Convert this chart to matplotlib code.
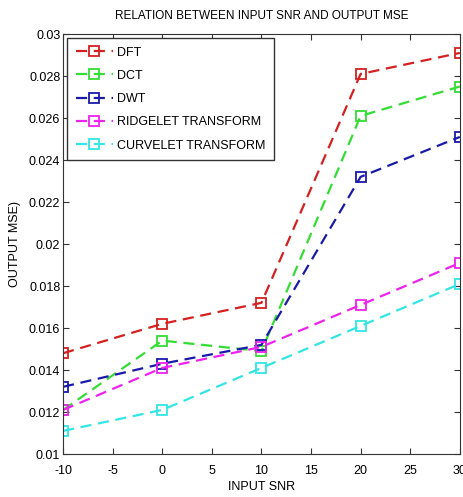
import matplotlib
matplotlib.use("Agg")
import matplotlib.pyplot as plt

plt.rcParams['font.family'] = ['Liberation Sans', 'DejaVu Sans']
plt.rcParams['axes.unicode_minus'] = False

snr = [-10, 0, 10, 20, 30]
dft = [0.0148, 0.0162, 0.0172, 0.0281, 0.0291]
dct = [0.0121, 0.0154, 0.0149, 0.0261, 0.0275]
dwt = [0.0132, 0.0143, 0.0152, 0.0232, 0.0251]
ridgelet = [0.0121, 0.0141, 0.0151, 0.0171, 0.0191]
curvelet = [0.0111, 0.0121, 0.0141, 0.0161, 0.0181]

series = [
    ("DFT", dft, "#d42020"),
    ("DCT", dct, "#33dd33"),
    ("DWT", dwt, "#1a1aaa"),
    ("RIDGELET TRANSFORM", ridgelet, "#ee22ee"),
    ("CURVELET TRANSFORM", curvelet, "#33e5e5"),
]

fig = plt.figure(figsize=(4.64, 4.97), dpi=100)
ax = fig.add_axes([0.136, 0.0865, 0.855, 0.845])

for name, vals, col in series:
    ax.plot(snr, vals, linestyle=(0, (5, 3)), color=col, lw=1.6,
            marker='s', markersize=7, markerfacecolor='none',
            markeredgecolor=col, markeredgewidth=1.3, label=name)

ax.set_xlim(-10, 30)
ax.set_ylim(0.01, 0.03)
ax.set_xticks(range(-10, 31, 5))
ax.set_yticks([0.01 + 0.002 * i for i in range(11)])
ax.set_yticklabels(['0.01', '0.012', '0.014', '0.016', '0.018', '0.02',
                    '0.022', '0.024', '0.026', '0.028', '0.03'])
ax.tick_params(direction='in', top=True, right=True, labelsize=9, length=4,
               color='#333333', pad=2)
ax.tick_params(axis='x', pad=8)
for s in ax.spines.values():
    s.set_color('#333333')

ax.set_title("RELATION BETWEEN INPUT SNR AND OUTPUT MSE", fontsize=8.5, pad=11)
ax.set_xlabel("INPUT SNR", fontsize=9, labelpad=3)
ax.set_ylabel("OUTPUT MSE)", fontsize=9, labelpad=6)

leg = ax.legend(loc='upper left', fontsize=9, fancybox=False, framealpha=1,
                edgecolor='#333333', handlelength=3.0, borderaxespad=0.3,
                labelspacing=0.9, handletextpad=0.3, borderpad=0.7)
leg.get_frame().set_linewidth(1.0)

plt.savefig('out.png', dpi=100)
